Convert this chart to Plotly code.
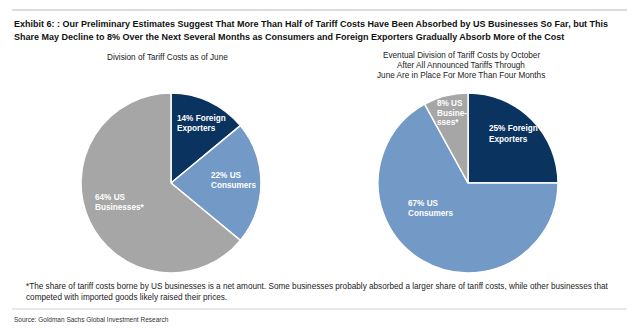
import plotly.graph_objects as go

W, H = 637, 332

categories = ["Foreign Exporters", "US Consumers", "US Businesses"]
june_values = [14, 22, 64]
october_values = [25, 67, 8]
colors = ["#0b3360", "#7399c6", "#a6a6a6"]

june_labels = [["14% Foreign", "Exporters"], ["22% US", "Consumers"], ["64% US", "Businesses*"]]
october_labels = [["25% Foreign", "Exporters"], ["67% US", "Consumers"], ["8% US", "Busine-", "sses*"]]

title_lines = ["Exhibit 6: : Our Preliminary Estimates Suggest That More Than Half of Tariff Costs Have Been Absorbed by US Businesses So Far, but This",
               "Share May Decline to 8% Over the Next Several Months as Consumers and Foreign Exporters Gradually Absorb More of the Cost"]
left_sub = ["Division of Tariff Costs as of June"]
right_sub = ["Eventual Division of Tariff Costs by October",
             "After All Announced Tariffs Through",
             "June Are in Place For More Than Four Months"]
footnote_lines = ["*The share of tariff costs borne by US businesses is a net amount. Some businesses probably absorbed a larger share of tariff costs, while other businesses that",
                  "competed with imported goods likely raised their prices."]
source = "Source: Goldman Sachs Global Investment Research"

def px_x(x):
    return x / W

def px_y(y):
    return 1 - y / H

fig = go.Figure()
for vals, x0, x1 in [(june_values, 81, 261), (october_values, 378, 558)]:
    fig.add_trace(go.Pie(
        labels=categories, values=vals, sort=False, direction="clockwise", rotation=0,
        marker=dict(colors=colors, line=dict(color="white", width=1.5)),
        textinfo="none", hoverinfo="label+percent",
        domain=dict(x=[px_x(x0), px_x(x1)], y=[px_y(273), px_y(93)]),
        showlegend=False,
    ))

ann = []
def add(text, x, y, size, color="#222", font="Liberation Sans", xanchor="left", bold=False):
    if bold:
        text = "<b>" + text + "</b>"
    ann.append(dict(text=text, x=px_x(x), y=px_y(y), xref="paper", yref="paper",
                    xanchor=xanchor, yanchor="middle", align=xanchor if xanchor != "center" else "center",
                    showarrow=False, font=dict(size=size, color=color, family=font)))

def add_lines(lines, x, y0, dy, size, **kw):
    for i, ln in enumerate(lines):
        add(ln, x, y0 + i * dy, size, **kw)

add_lines(title_lines, 12, 24, 13, 9.0, color="#111", bold=True)
add_lines(left_sub, 167, 57, 9.5, 8.2, xanchor="center")
add_lines(right_sub, 461, 56, 9.5, 8.2, xanchor="center")

# slice labels
for lines, (x, y) in zip(june_labels, [(175, 118), (209, 175), (93, 197)]):
    add_lines(lines, x, y, 10, 8.2, color="white", bold=True)
for lines, (x, y) in zip(october_labels, [(487, 129), (406, 203), (435, 103)]):
    add_lines(lines, x, y, 10, 8.2, color="white", bold=True)

add_lines(footnote_lines, 24, 286, 11, 8.2, color="#222")
add(source, 12, 319, 6.5, color="#333")

shapes = [
    dict(type="line", xref="paper", yref="paper", x0=px_x(12), x1=px_x(627), y0=px_y(10), y1=px_y(10),
         line=dict(color="#d0d0d0", width=1.5)),
    dict(type="line", xref="paper", yref="paper", x0=px_x(12), x1=px_x(627), y0=px_y(309), y1=px_y(309),
         line=dict(color="#d0d0d0", width=1)),
]

fig.update_layout(width=W, height=H, margin=dict(l=0, r=0, t=0, b=0),
                  paper_bgcolor="white", plot_bgcolor="white",
                  annotations=ann, shapes=shapes)
fig.write_html("out.html")
